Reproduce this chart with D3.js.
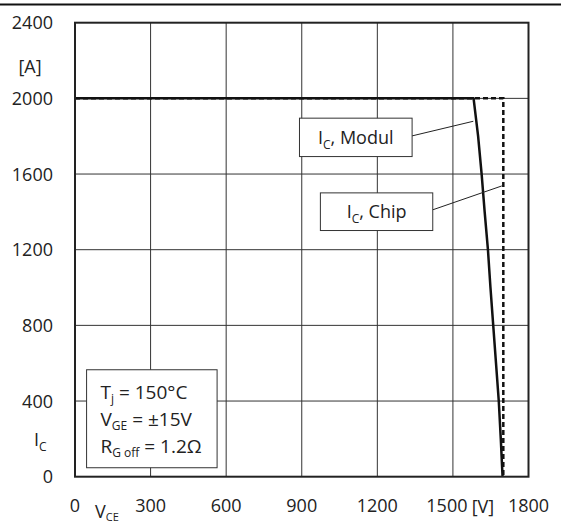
<!DOCTYPE html>
<html>
<head>
<meta charset="utf-8">
<script src="https://cdn.jsdelivr.net/npm/d3@7"></script>
<style>
  html, body { margin: 0; padding: 0; background: #fff; }
  svg text { font-family: "Open Sans", "Noto Sans", sans-serif; fill: #222; }
</style>
</head>
<body>
<svg id="chart" width="561" height="525"></svg>
<script>
// Axis ticks
const xTicks = [0, 300, 600, 900, 1200, 1500, 1800];
const yTicks = [0, 400, 800, 1200, 1600, 2000, 2400];

// Reverse bias safe operating area: module terminals (solid)
const modulV = [0, 1582, 1600, 1614, 1626, 1639, 1649, 1660, 1671, 1682, 1690, 1697];
const modulI = [2000, 2000, 1800, 1600, 1400, 1200, 1000, 800, 600, 400, 200, 0];

// Chip level (dashed)
const chipV = [0, 1700, 1700];
const chipI = [2000, 2000, 0];

const svg = d3.select("#chart");
const W = 561, H = 525;
const plot = { left: 75, right: 528.5, top: 22.7, bottom: 476.7 };

const x = d3.scaleLinear().domain([0, 1800]).range([plot.left, plot.right]);
const y = d3.scaleLinear().domain([0, 2400]).range([plot.bottom, plot.top]);

// Rule across the top of the page
svg.append("line")
  .attr("x1", 0).attr("x2", W).attr("y1", 4.5).attr("y2", 4.5)
  .attr("stroke", "#111").attr("stroke-width", 2);

// Grid
const grid = svg.append("g");
grid.selectAll(".gx").data(xTicks.slice(1, -1)).join("line")
  .attr("x1", d => x(d)).attr("x2", d => x(d))
  .attr("y1", plot.top).attr("y2", plot.bottom)
  .attr("stroke", "#333").attr("stroke-width", 1);
grid.selectAll(".gy").data(yTicks.slice(1, -1)).join("line")
  .attr("x1", plot.left).attr("x2", plot.right)
  .attr("y1", d => y(d)).attr("y2", d => y(d))
  .attr("stroke", "#333").attr("stroke-width", 1);

// Tick labels
svg.append("g").selectAll("text").data(yTicks).join("text")
  .attr("x", 53).attr("y", d => y(d)).attr("dy", "0.36em")
  .attr("text-anchor", "end").attr("font-size", 18)
  .text(d => d);
svg.append("g").selectAll("text").data(xTicks).join("text")
  .attr("x", d => x(d) - (d === 1500 ? 6 : 0)).attr("y", 506).attr("dy", "0.36em")
  .attr("text-anchor", "middle").attr("font-size", 18)
  .text(d => d);

// Unit and quantity labels
svg.append("text").attr("x", 30).attr("y", 73).attr("text-anchor", "middle")
  .attr("font-size", 18).text("[A]");
const ic = svg.append("text").attr("x", 34).attr("y", 446).attr("font-size", 18);
ic.append("tspan").text("I");
ic.append("tspan").attr("font-size", 12).attr("dy", 5).text("C");

svg.append("text").attr("x", 483).attr("y", 513).attr("text-anchor", "middle")
  .attr("font-size", 18).text("[V]");
const vce = svg.append("text").attr("x", 95).attr("y", 518).attr("font-size", 18);
vce.append("tspan").text("V");
vce.append("tspan").attr("font-size", 11).attr("dy", 3).text("CE");

// Curves
const line = d3.line().x(d => x(d[0])).y(d => y(d[1]));
svg.append("path")
  .datum(chipV.map((v, i) => [v, chipI[i]]))
  .attr("d", line).attr("fill", "none")
  .attr("stroke", "#111").attr("stroke-width", 2.5)
  .attr("stroke-dasharray", "5,3");
svg.append("path")
  .datum(modulV.map((v, i) => [v, modulI[i]]))
  .attr("d", line).attr("fill", "none")
  .attr("stroke", "#111").attr("stroke-width", 2.5)
  .attr("stroke-linejoin", "round");

// Plot frame
svg.append("rect")
  .attr("x", plot.left).attr("y", plot.top)
  .attr("width", plot.right - plot.left).attr("height", plot.bottom - plot.top)
  .attr("fill", "none").attr("stroke", "#222").attr("stroke-width", 2);

// Callout labels with leader lines
function callout(box, lead, parts) {
  svg.append("line")
    .attr("x1", x(lead[0])).attr("y1", y(lead[1]))
    .attr("x2", x(lead[2])).attr("y2", y(lead[3]))
    .attr("stroke", "#222").attr("stroke-width", 1);
  svg.append("rect")
    .attr("x", x(box[0]) + 0.5).attr("y", y(box[3]) + 0.5)
    .attr("width", x(box[1]) - x(box[0])).attr("height", y(box[2]) - y(box[3]))
    .attr("fill", "#fff").attr("stroke", "#333").attr("stroke-width", 1);
  const t = svg.append("text")
    .attr("x", (x(box[0]) + x(box[1])) / 2 + 0.5)
    .attr("y", (y(box[2]) + y(box[3])) / 2 + 7)
    .attr("text-anchor", "middle").attr("font-size", 18);
  t.append("tspan").text("I");
  t.append("tspan").attr("font-size", 12).attr("dy", 5).text("C");
  t.append("tspan").attr("dy", -5).text(parts);
}
callout([889, 1336, 1695, 1898], [1336, 1801, 1581, 1879], ", Modul");
callout([972, 1418, 1304, 1503], [1418, 1410, 1694, 1537], ", Chip");

// Test conditions box
svg.append("rect")
  .attr("x", x(44) + 0.5).attr("y", y(568) + 0.5)
  .attr("width", x(562) - x(44)).attr("height", y(50) - y(568))
  .attr("fill", "#fff").attr("stroke", "#333").attr("stroke-width", 1);
const cond = [
  ["T", "j", " = 150°C", 399],
  ["V", "GE", " = ±15V", 426],
  ["R", "G off", " = 1.2Ω", 453]
];
cond.forEach(c => {
  const t = svg.append("text").attr("x", 100.5).attr("y", c[3]).attr("font-size", 19);
  t.append("tspan").text(c[0]);
  t.append("tspan").attr("font-size", 12).attr("dy", 4).text(c[1]);
  t.append("tspan").attr("dy", -4).text(c[2]);
});
</script>
</body>
</html>
